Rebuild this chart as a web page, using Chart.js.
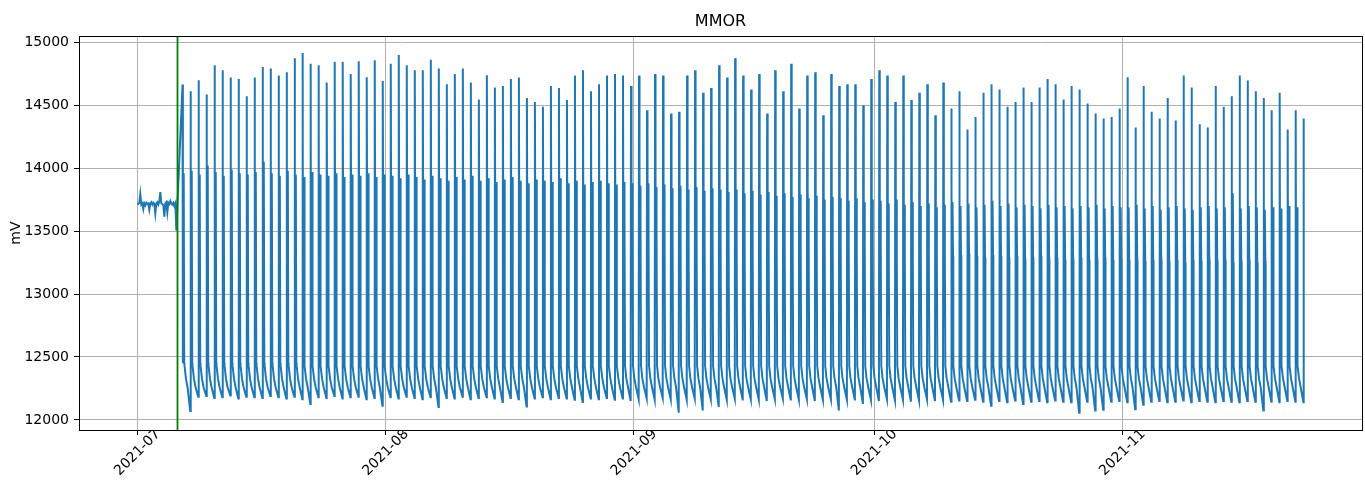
<!DOCTYPE html>
<html>
<head>
<meta charset="utf-8">
<title>MMOR</title>
<script src="https://cdn.jsdelivr.net/npm/chart.js@4.4.1/dist/chart.umd.min.js"></script>
<style>
  html, body { margin: 0; padding: 0; background: #fff; }
</style>
</head>
<body>
<canvas id="chart" width="1365" height="487"></canvas>
<script>
// ---- data ----
const monthLabels = ['2021-07', '2021-08', '2021-09', '2021-10', '2021-11'];
const yTicks = [12000, 12500, 13000, 13500, 14000, 14500, 15000];
const markerDate = '2021-07-06';

// flat stretch before the cycling starts, one value every 3 h from 2021-07-01 00:00
const preValues = [13720, 13715, 13725, 13795, 13710, 13720, 13675, 13720, 13705, 13725,
  13715, 13720, 13670, 13720, 13730, 13710, 13725, 13715, 13640, 13720,
  13730, 13710, 13735, 13810, 13720, 13715, 13705, 13615, 13720, 13730,
  13650, 13725, 13715, 13740, 13720, 13710, 13725, 13700, 13720, 13505];

// one cycle a day, 2021-07-06 .. 2021-11-23: top of the big spike
const dailyPeak = [14664, 14611, 14698, 14584, 14817, 14778, 14719, 14709, 14571, 14719,
  14804, 14791, 14735, 14762, 14873, 14915, 14830, 14817, 14680, 14846,
  14846, 14748, 14849, 14722, 14857, 14693, 14830, 14899, 14817, 14778,
  14778, 14860, 14791, 14666, 14748, 14791, 14680, 14545, 14738, 14640,
  14653, 14709, 14719, 14558, 14526, 14487, 14653,
  14637, 14542, 14735, 14778, 14611, 14666, 14735, 14748, 14735, 14653,
  14735, 14460, 14748, 14735, 14434, 14447, 14735, 14778, 14598, 14637,
  14817, 14719, 14873, 14735, 14624, 14748, 14434, 14778, 14611, 14830,
  14473, 14735, 14762, 14420, 14748, 14653, 14666, 14666, 14500, 14709,
  14778, 14735, 14526, 14735, 14542, 14598, 14666,
  14420, 14680, 14473, 14611, 14307, 14407, 14598, 14666, 14624, 14487,
  14526, 14640, 14526, 14640, 14709, 14666, 14545, 14653, 14624, 14513,
  14434, 14394, 14407, 14473, 14722, 14322, 14653, 14447, 14394, 14558,
  14378, 14735, 14640, 14349, 14322, 14653, 14487, 14571, 14735, 14696,
  14611, 14558, 14460, 14598, 14307, 14460, 14394];

// second, smaller spike after the big one
const dailyMid = [13960, 13980, 13950, 14020, 13970, 13940, 13990, 13960, 13950, 13970,
  14050, 13960, 13940, 13980, 13950, 13930, 13970, 13950, 13940, 13960,
  13930, 13950, 13940, 13960, 13930, 13950,
  13940, 13920, 13950, 13930, 13910, 13940, 13920, 13900, 13930, 13910,
  13940, 13900, 13920, 13890, 13910, 13930, 13900, 13880, 13910, 13900,
  13890, 13920, 13880, 13900, 13870, 13890, 13900, 13880, 13870, 13890, 13880,
  13860, 13880, 13850, 13870, 13840, 13860, 13830, 13850, 13820, 13840,
  13830, 13810, 13830, 13800, 13820, 13790, 13810, 13780, 13800, 13770,
  13790, 13760, 13780, 13750, 13770, 13760, 13740, 13760, 13730, 13750,
  13740, 13720, 13750, 13710, 13730, 13700, 13720, 13690, 13710, 13730,
  13700, 13720, 13690, 13710, 13740, 13700, 13720, 13690, 13710, 13700,
  13680, 13710, 13690, 13700, 13680, 13700, 13690, 13710, 13680, 13700, 13690,
  13690, 13710, 13680, 13700, 13670, 13690, 13700, 13680, 13670, 13690,
  13700, 13680, 13690, 13800, 13680, 13700, 13690, 13670, 13690, 13680,
  13700, 13690, 13680];

// level the line falls back to between the two spikes
const dailyFloor = [12450, 12450, 12450, 12450, 12450, 12450, 12450, 12450, 12450, 12450,
  12450, 12450, 12450, 12450, 12450, 12450, 12450, 12450,
  13800, 13820, 13780, 13800, 13790, 13780, 13770, 13790,
  13760, 13740, 13750, 13730, 13720, 13740, 13700, 13720, 13710, 13690,
  13700, 13680, 13690, 13670, 13680, 13660, 13650, 13670, 13640, 13650,
  13630, 13620, 13640, 13610, 13620, 13600, 13590, 13610, 13580, 13590, 13570,
  13560, 13540, 13550, 13520, 13530, 13500, 13510, 13490, 13480, 13500,
  13470, 13460, 13480, 13450, 13440, 13460, 13430, 13420, 13440, 13410,
  13400, 13420, 13390, 13380, 13400, 13370, 13380, 13360, 13370, 13350,
  13350, 13340, 13330, 13350, 13320, 13330, 13310, 13320, 13330, 13300,
  13310, 13320, 13300, 13290, 13310, 13300, 13290, 13300, 13280, 13290,
  13300, 13280, 13290, 13270, 13280, 13290, 13270, 13280, 13290, 13270, 13280,
  13270, 13280, 13260, 13270, 13280, 13260, 13270, 13250, 13270, 13260,
  13280, 13260, 13270, 13250, 13260, 13270, 13250, 13260, 13270, 13250,
  13260, 13270, 13260];

// bottom of each tooth, just before the next big spike
const dailyLow = [12070, 12185, 12190, 12175, 12180, 12195, 12170, 12185, 12180, 12175,
  12190, 12180, 12170, 12185, 12165, 12127, 12180, 12175, 12190, 12170,
  12180, 12185, 12165, 12175, 12113, 12180, 12170, 12185, 12175, 12165,
  12180, 12103, 12175, 12170, 12185, 12165, 12175, 12180, 12170, 12143,
  12175, 12165, 12106, 12170, 12180, 12165, 12175, 12170, 12160, 12143,
  12170, 12165, 12175, 12160, 12170, 12150, 12165, 12170, 12160, 12175,
  12165, 12058, 12160, 12170, 12074, 12165, 12103, 12160, 12170, 12155,
  12165, 12160, 12150, 12165, 12170, 12155, 12160, 12165, 12150, 12160,
  12165, 12074, 12160, 12155, 12127, 12160, 12150, 12165, 12155, 12160,
  12145, 12155, 12165, 12150, 12160, 12145, 12155, 12150, 12160, 12145,
  12113, 12150, 12140, 12155, 12127, 12145, 12150, 12140, 12155, 12145,
  12140, 12058, 12145, 12074, 12080, 12145, 12150, 12140, 12085, 12120,
  12145, 12150, 12140, 12145, 12155, 12140, 12150, 12145, 12140, 12150,
  12145, 12140, 12150, 12145, 12074, 12145, 12140, 12150, 12145, 12140];

// level right after the drop and along the slow decay of each day
const decayLevels = [12430, 12330, 12260];

// ---- timing of a daily cycle (hours relative to the big spike) ----
const DAY = 86400000;
const origin = Date.UTC(2021, 6, 1);
const preStepHours = 3;
const firstPeakDay = 5.65;
const floorHours = [1.0, 3.0, 5.0];
const midHours = [2.0, 4.0];
const decayHours = [6.0, 10, 15];
const troughHour = -1.0;

function dayOf(str) {
  const p = str.split('-').map(Number);
  return (Date.UTC(p[0], p[1] - 1, p[2] || 1) - origin) / DAY;
}
const monthDays = monthLabels.map(dayOf);

const points = [];
preValues.forEach((v, i) => points.push({ x: i * preStepHours / 24, y: v }));
for (let k = 0; k < dailyPeak.length; k++) {
  const t = firstPeakDay + k;
  if (k > 0) points.push({ x: t + troughHour / 24, y: dailyLow[k - 1] });
  points.push({ x: t, y: dailyPeak[k] });
  if (k === dailyPeak.length - 1) break;
  points.push({ x: t + floorHours[0] / 24, y: dailyFloor[k] });
  points.push({ x: t + midHours[0] / 24, y: dailyMid[k] });
  points.push({ x: t + floorHours[1] / 24, y: dailyFloor[k] });
  points.push({ x: t + midHours[1] / 24, y: dailyMid[k] });
  points.push({ x: t + floorHours[2] / 24, y: dailyFloor[k] });
  decayHours.forEach((h, i) => points.push({ x: t + h / 24, y: decayLevels[i] }));
}

const FONT = 'DejaVu Sans';
Chart.defaults.font.family = FONT;
Chart.defaults.color = '#000';

const framePlugin = {
  id: 'frame',
  afterDatasetsDraw(chart) {
    const { ctx, chartArea: a, scales } = chart;
    const gx = Math.round(scales.x.getPixelForValue(dayOf(markerDate))) + 0.5;
    ctx.save();
    ctx.strokeStyle = '#008000';
    ctx.lineWidth = 1.8;
    ctx.beginPath();
    ctx.moveTo(gx, a.top);
    ctx.lineTo(gx, a.bottom);
    ctx.stroke();
    ctx.strokeStyle = '#000';
    ctx.lineWidth = 1;
    ctx.strokeRect(Math.round(a.left) + 0.5, Math.round(a.top) + 0.5,
      Math.round(a.right - a.left), Math.round(a.bottom - a.top));
    ctx.restore();
  }
};

new Chart(document.getElementById('chart'), {
  type: 'line',
  data: {
    datasets: [{
      label: 'MMOR',
      data: points,
      borderColor: '#1f77b4',
      borderWidth: 2,
      pointRadius: 0,
      tension: 0,
      fill: false
    }]
  },
  options: {
    responsive: false,
    animation: false,
    parsing: false,
    normalized: true,
    layout: { padding: { left: 0, right: 3, top: 0, bottom: 0 } },
    plugins: {
      legend: { display: false },
      tooltip: { enabled: false },
      title: {
        display: true,
        fullSize: false,
        text: 'MMOR',
        font: { family: FONT, size: 16, weight: 'normal' },
        color: '#000',
        padding: { top: 12, bottom: 5 }
      }
    },
    scales: {
      x: {
        type: 'linear',
        min: -7.28,
        max: 152.93,
        afterBuildTicks: s => { s.ticks = monthDays.map(v => ({ value: v })); },
        afterFit: s => { s.height = 57; },
        ticks: {
          autoSkip: false,
          minRotation: 45,
          maxRotation: 45,
          labelOffset: 21,
          padding: -9,
          font: { family: FONT, size: 14 },
          color: '#000',
          callback: v => monthLabels[monthDays.indexOf(v)]
        },
        grid: { color: '#b0b0b0', lineWidth: 1, tickColor: '#000', tickLength: 5 },
        border: { color: '#000', width: 1 }
      },
      y: {
        min: 11920,
        max: 15048,
        afterBuildTicks: s => { s.ticks = yTicks.map(v => ({ value: v })); },
        afterFit: s => { s.width = 79; },
        ticks: {
          font: { family: FONT, size: 14 },
          color: '#000',
          padding: 5,
          callback: v => String(v)
        },
        grid: { color: '#b0b0b0', lineWidth: 1, tickColor: '#000', tickLength: 5 },
        border: { color: '#000', width: 1 },
        title: {
          display: true,
          text: 'mV',
          font: { family: FONT, size: 14 },
          color: '#000',
          padding: { top: 8, bottom: 0 }
        }
      }
    }
  },
  plugins: [framePlugin]
});
</script>
</body>
</html>
